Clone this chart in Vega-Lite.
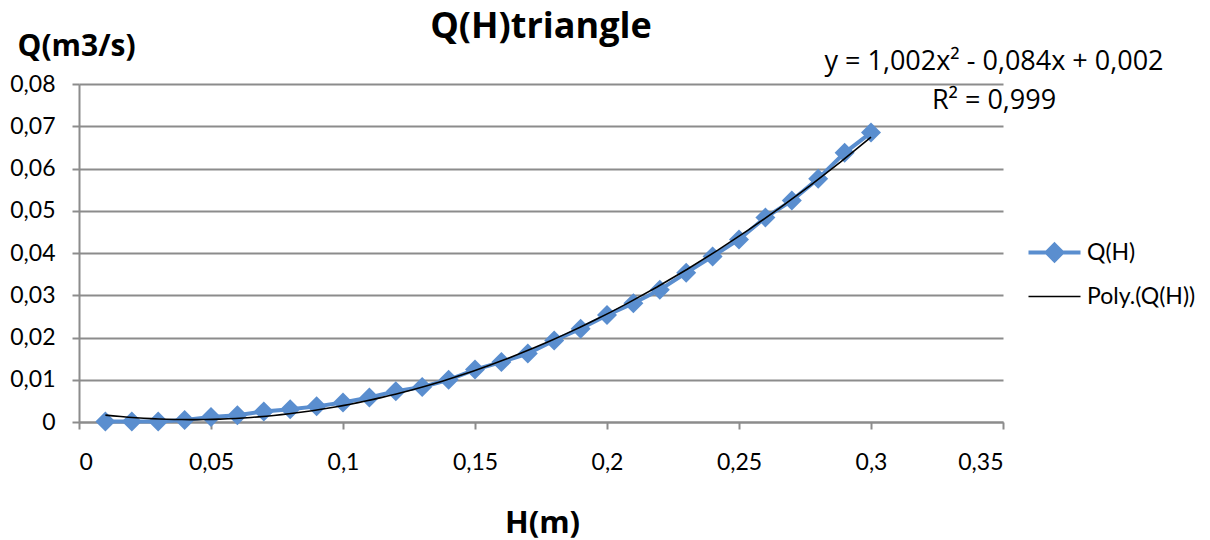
{
  "$schema": "https://vega.github.io/schema/vega-lite/v6.json",
  "autosize": {"type": "none"},
  "width": 924,
  "height": 338,
  "padding": {"left": 79, "top": 84, "right": 207, "bottom": 118},
  "background": "white",
  "title": {
    "text": "Q(H)triangle",
    "font": "Open Sans",
    "fontSize": 36,
    "fontWeight": "bold",
    "color": "#000000",
    "anchor": "middle",
    "baseline": "alphabetic",
    "offset": 0,
    "dy": 43
  },
  "config": {
    "view": {"stroke": null},
    "font": "Lato",
    "axis": {
      "labelFont": "Lato",
      "labelFontSize": 23,
      "labelColor": "#000000",
      "titleFont": "Open Sans",
      "titleColor": "#000000",
      "domainColor": "#8c8c8c",
      "domainWidth": 2,
      "tickColor": "#8c8c8c",
      "tickWidth": 2,
      "tickSize": 7,
      "gridColor": "#8c8c8c",
      "gridWidth": 2
    }
  },
  "data": {
    "values": [
      {"H": 0.01, "Q": 0.0001},
      {"H": 0.02, "Q": 0.0001},
      {"H": 0.03, "Q": 0.0001},
      {"H": 0.04, "Q": 0.0005},
      {"H": 0.05, "Q": 0.0012},
      {"H": 0.06, "Q": 0.0016},
      {"H": 0.07, "Q": 0.0025},
      {"H": 0.08, "Q": 0.003},
      {"H": 0.09, "Q": 0.0037},
      {"H": 0.10, "Q": 0.0046},
      {"H": 0.11, "Q": 0.0058},
      {"H": 0.12, "Q": 0.0073},
      {"H": 0.13, "Q": 0.0083},
      {"H": 0.14, "Q": 0.0100},
      {"H": 0.15, "Q": 0.0124},
      {"H": 0.16, "Q": 0.0142},
      {"H": 0.17, "Q": 0.0162},
      {"H": 0.18, "Q": 0.0193},
      {"H": 0.19, "Q": 0.0221},
      {"H": 0.20, "Q": 0.0253},
      {"H": 0.21, "Q": 0.0281},
      {"H": 0.22, "Q": 0.0313},
      {"H": 0.23, "Q": 0.0353},
      {"H": 0.24, "Q": 0.0392},
      {"H": 0.25, "Q": 0.0432},
      {"H": 0.26, "Q": 0.0484},
      {"H": 0.27, "Q": 0.0524},
      {"H": 0.28, "Q": 0.0576},
      {"H": 0.29, "Q": 0.0637},
      {"H": 0.30, "Q": 0.0685}
    ]
  },
  "layer": [
    {
      "mark": {"type": "line", "strokeWidth": 4, "clip": false},
      "encoding": {
        "x": {
          "field": "H",
          "type": "quantitative",
          "scale": {"domain": [0, 0.35], "nice": false, "zero": false},
          "axis": {
            "values": [0, 0.05, 0.1, 0.15, 0.2, 0.25, 0.3, 0.35],
            "labelExpr": "replace(format(datum.value, '~g'), '.', ',')",
            "grid": false,
            "labelPadding": 22,
            "title": "H(m)",
            "titleFontSize": 31,
            "titleFontWeight": "bold",
            "titleBaseline": "alphabetic",
            "titleY": 110,
            "titleX": 463
          }
        },
        "y": {
          "field": "Q",
          "type": "quantitative",
          "scale": {"domain": [0, 0.08], "nice": false, "zero": false},
          "axis": {
            "values": [0, 0.01, 0.02, 0.03, 0.04, 0.05, 0.06, 0.07, 0.08],
            "labelExpr": "replace(format(datum.value, '~g'), '.', ',')",
            "grid": true,
            "labelPadding": 17,
            "title": "Q(m3/s)",
            "titleFontSize": 30,
            "titleFontWeight": "bold",
            "titleAngle": 0,
            "titleAlign": "left",
            "titleBaseline": "alphabetic",
            "titleX": -62,
            "titleY": -29
          }
        },
        "color": {
          "datum": "Q(H)",
          "type": "nominal",
          "scale": {"domain": ["Q(H)", "Poly.(Q(H))"], "range": ["#5A8ECF", "#000000"]},
          "legend": {
            "title": null,
            "orient": "none",
            "legendX": 964,
            "legendY": 157,
            "padding": 0,
            "symbolSize": 676,
            "rowPadding": 16,
            "labelOffset": 21,
            "labelFont": "Lato",
            "labelFontSize": 23,
            "labelColor": "#000000",
            "labelLimit": 300,
            "encode": {
              "symbols": {
                "update": {
                  "shape": {"signal": "datum.value === 'Q(H)' ? 'M-2,0L2,0M0,-0.6L0.6,0L0,0.6L-0.6,0Z' : 'M-2,0L2,0'"},
                  "stroke": {"signal": "datum.value === 'Q(H)' ? '#5A8ECF' : '#000000'"},
                  "fill": {"signal": "datum.value === 'Q(H)' ? '#5A8ECF' : 'transparent'"},
                  "strokeWidth": {"signal": "datum.value === 'Q(H)' ? 4 : 1.5"},
                  "opacity": {"value": 1},
                  "fillOpacity": {"value": 1},
                  "size": {"value": 676}
                }
              }
            }
          }
        }
      }
    },
    {
      "mark": {"type": "point", "shape": "diamond", "filled": true, "size": 400, "opacity": 1},
      "encoding": {
        "x": {"field": "H", "type": "quantitative"},
        "y": {"field": "Q", "type": "quantitative"},
        "color": {"datum": "Q(H)", "type": "nominal"}
      }
    },
    {
      "transform": [
        {"regression": "Q", "on": "H", "method": "poly", "order": 2, "extent": [0.01, 0.3]}
      ],
      "mark": {"type": "line", "strokeWidth": 1.6},
      "encoding": {
        "x": {"field": "H", "type": "quantitative"},
        "y": {"field": "Q", "type": "quantitative"},
        "color": {"datum": "Poly.(Q(H))", "type": "nominal"}
      }
    },
    {
      "data": {"values": [{"t": "y = 1,002x² - 0,084x + 0,002"}]},
      "mark": {"type": "text", "font": "Open Sans", "fontSize": 27, "fill": "#000000", "align": "center", "baseline": "middle", "clip": false},
      "encoding": {
        "x": {"datum": 0.3466, "type": "quantitative"},
        "y": {"datum": 0.0852, "type": "quantitative"},
        "text": {"field": "t", "type": "nominal"}
      }
    },
    {
      "data": {"values": [{"t": "R² = 0,999"}]},
      "mark": {"type": "text", "font": "Open Sans", "fontSize": 27, "fill": "#000000", "align": "center", "baseline": "middle", "clip": false},
      "encoding": {
        "x": {"datum": 0.3466, "type": "quantitative"},
        "y": {"datum": 0.0760, "type": "quantitative"},
        "text": {"field": "t", "type": "nominal"}
      }
    }
  ]
}
